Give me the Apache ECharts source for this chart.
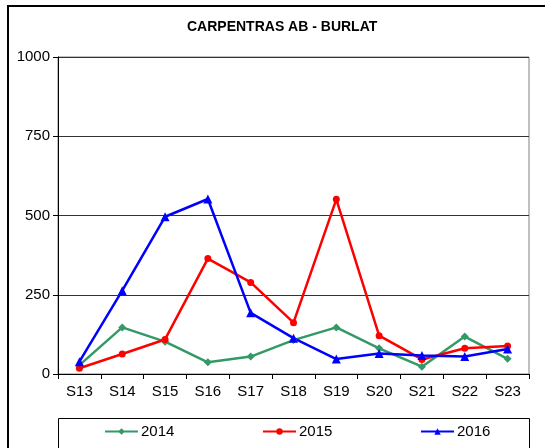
<!DOCTYPE html>
<html>
<head>
<meta charset="utf-8">
<script src="https://cdn.jsdelivr.net/npm/echarts@6/dist/echarts.min.js"></script>
<style>html,body{margin:0;padding:0;background:#fff}#c{width:545px;height:448px}</style>
</head>
<body>
<div id="c"></div>
<script>
var categories = ['S13','S14','S15','S16','S17','S18','S19','S20','S21','S22','S23'];
var s2014 = [28, 147, 102, 37, 55, 107, 147, 81, 23, 118, 48];
var s2015 = [18, 63, 109, 364, 289, 162, 551, 121, 46, 81, 88];
var s2016 = [39, 263, 496, 552, 193, 113, 47, 65, 58, 55, 79];
var yTicks = [0, 250, 500, 750, 1000];
var titleText = 'CARPENTRAS AB - BURLAT';

var font = 'Liberation Sans';
var chart = echarts.init(document.getElementById('c'), null, {renderer: 'canvas'});
function legendFor(name, left) {
  return {
    data: [name], left: left, top: 424, itemWidth: 33, itemHeight: 8, itemGap: 0,
    padding: 0,
    textStyle: {fontFamily: font, fontSize: 15, color: '#000', padding: [0,0,0,-2]}
  };
}
chart.setOption({
  animation: false,
  backgroundColor: '#fff',
  title: {
    text: titleText, left: 187, top: 20, padding: 0,
    textStyle: {fontFamily: font, fontSize: 14, fontWeight: 'bold', color: '#000'}
  },
  graphic: [
    {type: 'rect', shape: {x: 8, y: 6, width: 560, height: 470}, style: {fill: 'none', stroke: '#000', lineWidth: 2}, silent: true, z: -1},
    {type: 'rect', shape: {x: 58.5, y: 418.5, width: 471, height: 60}, style: {fill: 'none', stroke: '#000', lineWidth: 1}, silent: true, z: -1}
  ],
  legend: [legendFor('2014', 104), legendFor('2015', 262), legendFor('2016', 420)],
  grid: {left: 58, right: 16, top: 57, bottom: 74, show: true, borderColor: '#808080', borderWidth: 1, backgroundColor: 'transparent'},
  xAxis: {
    type: 'category', data: categories, boundaryGap: true,
    axisLine: {lineStyle: {color: '#000', width: 1}},
    axisTick: {show: true, length: 5, inside: false, lineStyle: {color: '#000'}},
    axisLabel: {fontFamily: font, fontSize: 15, color: '#000', margin: 10}
  },
  yAxis: {
    type: 'value', min: 0, max: 1000, interval: 250,
    axisLine: {show: true, lineStyle: {color: '#000', width: 1}},
    axisTick: {show: true, length: 5, lineStyle: {color: '#000'}},
    axisLabel: {fontFamily: font, fontSize: 15, color: '#000', margin: 8,
      formatter: function (v) { return yTicks.indexOf(v) >= 0 ? String(v) : ''; }},
    splitLine: {show: true, lineStyle: {color: '#333', width: 1}}
  },
  series: [
    {name: '2014', type: 'line', data: s2014, symbol: 'diamond', symbolSize: 8,
      lineStyle: {color: '#339966', width: 2.5}, itemStyle: {color: '#339966'}},
    {name: '2015', type: 'line', data: s2015, symbol: 'circle', symbolSize: 7,
      lineStyle: {color: '#ff0000', width: 2.5}, itemStyle: {color: '#ff0000'}},
    {name: '2016', type: 'line', data: s2016, symbol: 'triangle', symbolSize: 9,
      lineStyle: {color: '#0000ff', width: 2.5}, itemStyle: {color: '#0000ff'}}
  ]
});
</script>
</body>
</html>
